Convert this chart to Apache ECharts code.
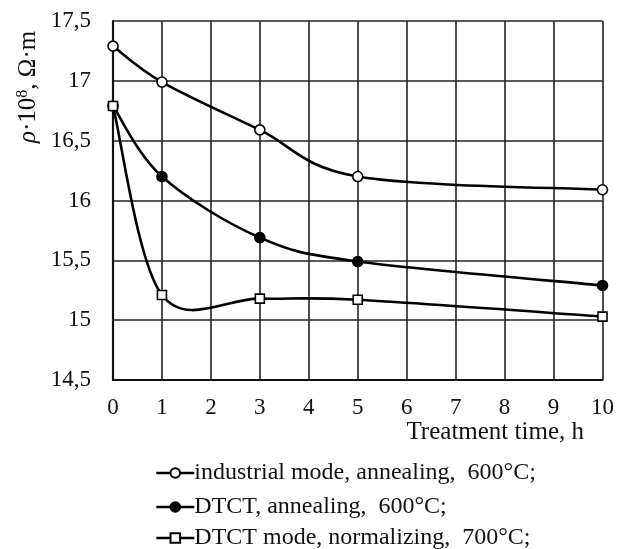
<!DOCTYPE html>
<html>
<head>
<meta charset="utf-8">
<script src="https://cdn.jsdelivr.net/npm/echarts@6/dist/echarts.min.js"></script>
<style>html,body{margin:0;padding:0;background:#fff}#c{width:617px;height:549px}</style>
</head>
<body>
<div id="c"></div>
<script>
const hours = [0, 1, 3, 5, 10];
const industrialAnneal = [17.29, 16.99, 16.59, 16.2, 16.09];
const dtctAnneal = [16.79, 16.2, 15.69, 15.49, 15.29];
const dtctNormalize = [16.79, 15.21, 15.18, 15.17, 15.03];
const seriesNames = [
  'industrial mode, annealing,  600°C;',
  'DTCT, annealing,  600°C;',
  'DTCT mode, normalizing,  700°C;'
];
const xTicks = { min: 0, max: 10, interval: 1 };
const yTicks = { min: 14.5, max: 17.5, interval: 0.5 };

const FONT = 'Liberation Serif';
const LW = 2.6;
const pairs = (ys) => hours.map((h, i) => [h, ys[i]]);

const chart = echarts.init(document.getElementById('c'), null, { renderer: 'canvas' });

// Smooth curve (Catmull-Rom style, like spreadsheet "smoothed line"), drawn through the axis scales
function curveSeries(id, ys) {
  return {
    id: id,
    type: 'custom',
    data: pairs(ys),
    clip: true,
    silent: true,
    z: 3,
    renderItem: function (params, api) {
      const i = params.dataIndex;
      const n = hours.length;
      if (i >= n - 1) return { type: 'group', children: [] };
      const pts = hours.map((h, k) => api.coord([h, ys[k]]));
      const p0 = pts[Math.max(i - 1, 0)];
      const p1 = pts[i];
      const p2 = pts[i + 1];
      const p3 = pts[Math.min(i + 2, n - 1)];
      return {
        type: 'bezierCurve',
        shape: {
          x1: p1[0], y1: p1[1],
          x2: p2[0], y2: p2[1],
          cpx1: p1[0] + (p2[0] - p0[0]) / 6,
          cpy1: p1[1] + (p2[1] - p0[1]) / 6,
          cpx2: p2[0] - (p3[0] - p1[0]) / 6,
          cpy2: p2[1] - (p3[1] - p1[1]) / 6
        },
        style: { stroke: '#000', lineWidth: LW, fill: null, lineCap: 'round' }
      };
    }
  };
}

function markerSeries(name, ys, symbol, fill, size) {
  return {
    name: name,
    type: 'line',
    data: pairs(ys),
    symbol: symbol,
    symbolSize: size,
    showAllSymbol: true,
    lineStyle: { color: '#000', width: LW, opacity: 0 },
    itemStyle: { color: fill, borderColor: '#000', borderWidth: 1.6 },
    emphasis: { disabled: true },
    z: 5
  };
}

function legendFor(k, top) {
  return {
    orient: 'vertical',
    left: 155, top: top, padding: 0,
    itemWidth: 38, itemHeight: 12,
    textStyle: { fontFamily: FONT, fontSize: 24, color: '#111', padding: [0, 0, 0, -5] },
    data: [{ name: seriesNames[k], lineStyle: { opacity: 1, width: LW, color: '#000' } }]
  };
}

chart.setOption({
  animation: false,
  backgroundColor: '#fff',
  grid: { left: 113, top: 21, width: 490, height: 359, containLabel: false },
  xAxis: {
    type: 'value',
    min: xTicks.min, max: xTicks.max, interval: xTicks.interval,
    axisLine: { show: true, onZero: false, lineStyle: { color: '#111', width: 2.2 } },
    axisTick: { show: false },
    axisLabel: { margin: 16, color: '#111', fontFamily: FONT, fontSize: 23 },
    splitLine: { show: true, lineStyle: { color: '#222', width: 1.6 } }
  },
  yAxis: {
    type: 'value',
    min: yTicks.min, max: yTicks.max, interval: yTicks.interval,
    axisLine: { show: true, lineStyle: { color: '#111', width: 2.2 } },
    axisTick: { show: false },
    axisLabel: {
      margin: 22, color: '#111', fontFamily: FONT, fontSize: 23,
      formatter: (v) => String(v).replace('.', ',')
    },
    splitLine: { show: true, lineStyle: { color: '#222', width: 1.6 } }
  },
  legend: [legendFor(0, 461), legendFor(1, 495), legendFor(2, 526)],
  graphic: [
    {
      type: 'text',
      right: 617 - 584, top: 420,
      style: { text: 'Treatment time, h', font: '25px "Liberation Serif"', fill: '#111' }
    },
    {
      type: 'text',
      x: 28, y: 143,
      rotation: Math.PI / 2,
      style: {
        text: '{i|ρ}{n|·10}{s|8}{n|, Ω·m}',
        fill: '#111',
        rich: {
          i: { fontFamily: FONT, fontSize: 25, fontStyle: 'italic' },
          n: { fontFamily: FONT, fontSize: 25 },
          s: { fontFamily: FONT, fontSize: 16, verticalAlign: 'top', padding: [0, 0, 11, 0] }
        },
        verticalAlign: 'middle'
      }
    }
  ],
  series: [
    curveSeries('c0', industrialAnneal),
    curveSeries('c1', dtctAnneal),
    curveSeries('c2', dtctNormalize),
    markerSeries(seriesNames[0], industrialAnneal, 'circle', '#fff', 10),
    markerSeries(seriesNames[1], dtctAnneal, 'circle', '#000', 10),
    markerSeries(seriesNames[2], dtctNormalize, 'rect', '#fff', 9)
  ]
});
</script>
</body>
</html>
